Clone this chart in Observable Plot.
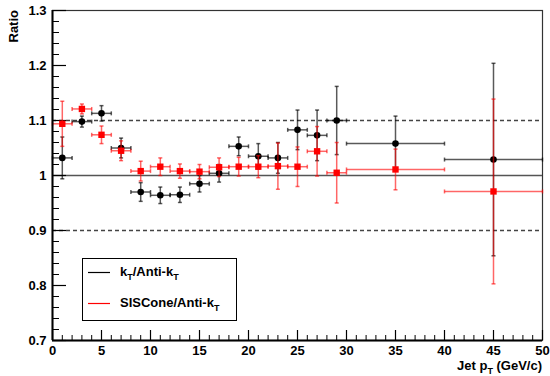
<!DOCTYPE html>
<html>
<head>
<meta charset="utf-8">
<script src="https://cdn.jsdelivr.net/npm/d3@7"></script>
<script src="https://cdn.jsdelivr.net/npm/@observablehq/plot@0.6"></script>
<style>
  html, body { margin: 0; padding: 0; background: white; }
  svg text { font-weight: bold; }
</style>
</head>
<body>
<div id="chart"></div>
<script>
// ---- data ----
const seriesNames = ["kT/Anti-kT", "SISCone/Anti-kT"];

const ktX    = [1, 3, 5, 7, 9, 11, 13, 15, 17, 19, 21, 23, 25, 27, 29, 35, 45];
const ktXErr = [1, 1, 1, 1, 1, 1, 1, 1, 1, 1, 1, 1, 1, 1, 1, 5, 5];
const ktY    = [1.032, 1.098, 1.113, 1.050, 0.970, 0.964, 0.965, 0.985, 1.004, 1.053, 1.035, 1.032, 1.083, 1.073, 1.100, 1.058, 1.029];
const ktYErr = [0.038, 0.010, 0.014, 0.018, 0.017, 0.015, 0.014, 0.015, 0.016, 0.017, 0.023, 0.028, 0.036, 0.046, 0.062, 0.050, 0.175];

const sisX    = [1, 3, 5, 7, 9, 11, 13, 15, 17, 19, 21, 23, 25, 27, 29, 35, 45];
const sisXErr = [1, 1, 1, 1, 1, 1, 1, 1, 1, 1, 1, 1, 1, 1, 1, 5, 5];
const sisY    = [1.094, 1.121, 1.074, 1.045, 1.008, 1.016, 1.008, 1.007, 1.015, 1.016, 1.016, 1.017, 1.016, 1.044, 1.005, 1.011, 0.971];
const sisYErr = [0.041, 0.009, 0.016, 0.018, 0.018, 0.016, 0.013, 0.013, 0.017, 0.017, 0.020, 0.042, 0.036, 0.045, 0.055, 0.037, 0.168];

const refLines = [1.0];
const dashedLines = [0.9, 1.1];

const xTicks = [0, 5, 10, 15, 20, 25, 30, 35, 40, 45, 50];
const xTickLabels = ["0", "5", "10", "15", "20", "25", "30", "35", "40", "45", "50"];
const yTicks = [0.7, 0.8, 0.9, 1.0, 1.1, 1.2, 1.3];
const yTickLabels = ["0.7", "0.8", "0.9", "1", "1.1", "1.2", "1.3"];
const xMinor = d3.range(0, 51, 1);
const yMinor = d3.range(35, 66).map(i => i / 50);

// ---- tables ----
const mk = (xs, xe, ys, ye) => xs.map((x, i) => ({x, xe: xe[i], y: ys[i], ye: ye[i]}));
const kt = mk(ktX, ktXErr, ktY, ktYErr);
const sis = mk(sisX, sisXErr, sisY, sisYErr);

const hcap = {draw(ctx, size) { const w = Math.sqrt(size / Math.PI); ctx.moveTo(-w, 0); ctx.lineTo(w, 0); }};
const vcap = {draw(ctx, size) { const w = Math.sqrt(size / Math.PI); ctx.moveTo(0, -w); ctx.lineTo(0, w); }};

function errorMarks(data, color, opacity) {
  const s = {stroke: color, strokeOpacity: opacity, strokeWidth: 1.5};
  return [
    Plot.link(data, {x1: "x", x2: "x", y1: d => d.y - d.ye, y2: d => d.y + d.ye, ...s}),
    Plot.link(data, {x1: d => d.x - d.xe, x2: d => d.x + d.xe, y1: "y", y2: "y", ...s}),
    Plot.dot(data, {x: "x", y: d => d.y - d.ye, symbol: hcap, r: 2, fill: "none", ...s}),
    Plot.dot(data, {x: "x", y: d => d.y + d.ye, symbol: hcap, r: 2, fill: "none", ...s}),
    Plot.dot(data, {x: d => d.x - d.xe, y: "y", symbol: vcap, r: 2, fill: "none", ...s}),
    Plot.dot(data, {x: d => d.x + d.xe, y: "y", symbol: vcap, r: 2, fill: "none", ...s})
  ];
}

const W = 550, H = 376, ML = 52, MR = 8, MT = 10, MB = 36;
const innerW = W - ML - MR, innerH = H - MT - MB;

const chart = Plot.plot({
  width: W, height: H,
  marginLeft: ML, marginRight: MR, marginTop: MT, marginBottom: MB,
  x: {domain: [0, 50]},
  y: {domain: [0.7, 1.3]},
  style: {fontFamily: "'Liberation Sans', Arial, Helvetica, sans-serif", fontSize: "13px", background: "white", color: "black"},
  marks: [
    Plot.frame({stroke: "#333", strokeWidth: 1.2}),
    Plot.ruleY(refLines, {stroke: "#555", strokeWidth: 1.5}),
    Plot.ruleY(dashedLines, {stroke: "#444", strokeWidth: 1.3, strokeDasharray: "4,3"}),
    // axis ticks (inward, ROOT style)
    Plot.tickY(yTicks, {y: d => d, insetRight: innerW - 14, stroke: "black", strokeWidth: 1.2}),
    Plot.tickY(yMinor, {y: d => d, insetRight: innerW - 7, stroke: "black", strokeWidth: 1}),
    Plot.tickX(xTicks, {x: d => d, insetTop: innerH - 10, stroke: "black", strokeWidth: 1.2}),
    Plot.tickX(xMinor, {x: d => d, insetTop: innerH - 5, stroke: "black", strokeWidth: 1}),
    Plot.axisY({ticks: yTicks, tickSize: 0, tickPadding: 6, tickFormat: d => yTickLabels[yTicks.indexOf(d)], label: null, fontSize: 13}),
    Plot.axisX({ticks: xTicks, tickSize: 0, tickPadding: 5, tickFormat: d => xTickLabels[xTicks.indexOf(d)], label: null, fontSize: 13}),
    // kT series
    ...errorMarks(kt, "black", 0.65),
    Plot.dot(kt, {x: "x", y: "y", r: 3.3, fill: "black", stroke: "none"}),
    // SISCone series
    ...errorMarks(sis, "#ff0000", 0.6),
    Plot.dot(sis, {x: "x", y: "y", r: 3.6, symbol: "square", fill: "#ff0000", stroke: "none"}),
    // main axis lines
    Plot.ruleX([0], {stroke: "black", strokeWidth: 2}),
    Plot.ruleY([0.7], {stroke: "black", strokeWidth: 2})
  ]
});

document.getElementById("chart").appendChild(chart);

// ---- titles & legend with subscripts ----
const svg = d3.select(chart);
const font = "'Liberation Sans', Arial, Helvetica, sans-serif";

function subText(g, x, y, parts, anchor) {
  const t = g.append("text").attr("x", x).attr("y", y)
    .attr("font-family", font).attr("font-size", 13).attr("font-weight", "bold")
    .attr("text-anchor", anchor || "start").attr("fill", "black");
  parts.forEach(p => {
    const ts = t.append("tspan").text(p.t);
    if (p.sub) ts.attr("font-size", 9).attr("dy", 4);
    else if (p.after) ts.attr("dy", -4);
  });
  return t;
}

// x-axis title
subText(svg, W - MR, 370, [{t: "Jet p"}, {t: "T", sub: true}, {t: " (GeV/c)", after: true}], "end");

// y-axis title (rotated, aligned at top)
svg.append("text")
  .attr("transform", `translate(18, ${MT}) rotate(-90)`)
  .attr("text-anchor", "end")
  .attr("font-family", font).attr("font-size", 13).attr("font-weight", "bold")
  .attr("fill", "black")
  .text("Ratio");

// legend
const lg = svg.append("g");
lg.append("rect").attr("x", 82.5).attr("y", 258.5).attr("width", 154).attr("height", 62)
  .style("fill", "white").style("stroke", "black").style("stroke-width", "1px");
lg.append("line").attr("x1", 88).attr("x2", 110).attr("y1", 272.5).attr("y2", 272.5)
  .style("stroke", "#000000").style("stroke-width", "1.2px");
lg.append("line").attr("x1", 88).attr("x2", 110).attr("y1", 303.5).attr("y2", 303.5)
  .style("stroke", "#ff0000").style("stroke-width", "1.2px");
subText(lg, 120, 276, [{t: "k"}, {t: "T", sub: true}, {t: "/Anti-k", after: true}, {t: "T", sub: true}]);
subText(lg, 120, 307, [{t: "SISCone/Anti-k"}, {t: "T", sub: true}]);
</script>
</body>
</html>
